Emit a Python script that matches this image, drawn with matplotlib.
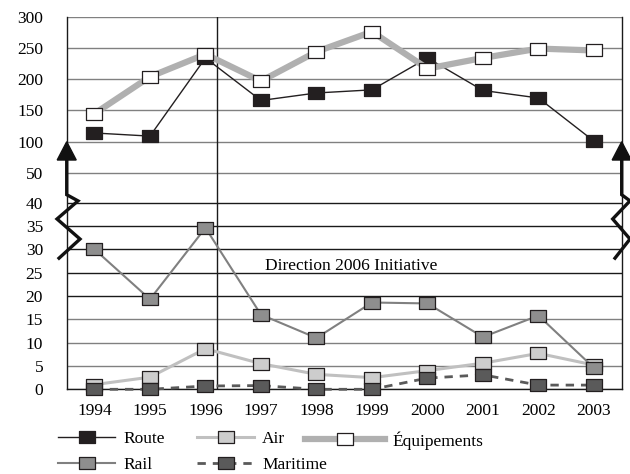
import matplotlib
matplotlib.use("Agg")
import matplotlib.pyplot as plt
import numpy as np
from matplotlib.path import Path
from matplotlib.transforms import blended_transform_factory

plt.rcParams['font.family'] = ['Liberation Serif', 'DejaVu Serif']
plt.rcParams['font.size'] = 12.5

years = ['1994', '1995', '1996', '1997', '1998', '1999', '2000', '2001', '2002', '2003']
route = [114, 109, 234, 166, 178, 183, 234, 182, 170, 101]
equipements = [145, 204, 240, 197, 244, 276, 217, 234, 249, 246]
rail = [30, 19.3, 34.6, 16, 11, 18.6, 18.4, 11.2, 15.8, 4.6]
air = [1.0, 2.6, 8.7, 5.5, 3.2, 2.5, 4.0, 5.6, 7.7, 5.2]
maritime = [0, 0, 0.7, 0.8, 0, 0, 2.4, 3.1, 0.9, 0.9]

y_ticks = [0, 5, 10, 15, 20, 25, 30, 35, 40, 50, 100, 150, 200, 250, 300]

# broken axis: 0-40 stretched, 50-300 compressed
brk_vals = [0, 40, 50, 100, 300]
brk_pos = [0, 8.0, 9.26, 10.61, 15.97]


def fwd(v):
    return np.interp(v, brk_vals, brk_pos)


def inv(p):
    return np.interp(p, brk_pos, brk_vals)


# rectangular marker, wider than tall
rect = Path([(-1, -0.7), (1, -0.7), (1, 0.7), (-1, 0.7), (-1, -0.7)],
            [Path.MOVETO, Path.LINETO, Path.LINETO, Path.LINETO, Path.CLOSEPOLY])

fig = plt.figure(figsize=(6.3, 4.74), dpi=100)
ax = fig.add_axes([0.1059, 0.1787, 0.8809, 0.7861])
ax.set_yscale('function', functions=(fwd, inv))

x = np.arange(len(years))
edge = '#231f20'
ms = 12.2

l_air, = ax.plot(x, air, color='#c0c0c0', lw=2.2, marker=rect, ms=ms, mfc='#cdcdcd',
                 mec=edge, mew=0.9, zorder=3, clip_on=False, label='Air')
l_rail, = ax.plot(x, rail, color='#808080', lw=1.5, marker=rect, ms=ms, mfc='#8e8e8e',
                  mec=edge, mew=0.9, zorder=4, clip_on=False, label='Rail')
l_mar, = ax.plot(x, maritime, color='#5a5a5a', lw=2, ls=(0, (3, 2.5)), marker=rect, ms=ms,
                 mfc='#5a5a5a', mec=edge, mew=0.9, zorder=5, clip_on=False, label='Maritime')
l_route, = ax.plot(x, route, color=edge, lw=1, marker=rect, ms=ms, mfc=edge,
                   mec=edge, mew=0.9, zorder=4, clip_on=False, label='Route')
l_eq, = ax.plot(x, equipements, color='#b0b0b0', lw=4.5, marker=rect, ms=ms, mfc='white',
                mec=edge, mew=0.9, zorder=5, clip_on=False, label='Équipements')

ax.set_xlim(-0.5, 9.5)
ax.set_ylim(0, 300)
ax.set_xticks(x)
ax.set_xticklabels(years)
ax.set_yticks(y_ticks)
ax.set_yticklabels([str(t) for t in y_ticks])
ax.yaxis.set_minor_locator(matplotlib.ticker.NullLocator())
ax.tick_params(axis='both', length=0)
ax.tick_params(axis='y', pad=17)
ax.tick_params(axis='x', pad=10)

ax.grid(axis='y', color='#808080', lw=1)
for t, gl in zip(y_ticks, ax.get_ygridlines()):
    if 20 <= t <= 40:
        gl.set_color('#1a1a1a')
ax.set_axisbelow(True)

for s in ['left', 'right', 'bottom']:
    ax.spines[s].set_color('#1a1a1a')
    ax.spines[s].set_linewidth(1)
ax.spines['top'].set_visible(False)

# vertical marker line and annotation
ax.axvline(2.2, color='#1a1a1a', lw=1, zorder=2)
ax.text(3.07, 25.6, 'Direction 2006 Initiative', ha='left', va='baseline', fontsize=12.5)

# axis break symbols on both sides
tr = blended_transform_factory(ax.transAxes, ax.transData)
w = 555.0
for x0, zz in [(0.0, [(0, 71), (0, 42.7), (11.3, 40.6), (-9.7, 36.5), (13.3, 32.2), (-7.7, 28.1)]),
               (1.0, [(0, 71), (0, 42.7), (8.3, 40.6), (-9.0, 36.5), (8.3, 32.2), (-6.7, 28.1)])]:
    xs = [x0 + p[0] / w for p in zz]
    ys = [p[1] for p in zz]
    ax.plot(xs, ys, color='#111111', lw=2.4, transform=tr, clip_on=False, zorder=6,
            solid_joinstyle='miter')
    ax.fill([x0 - 9.5 / w, x0, x0 + 9.5 / w], [71, 100, 71], color='#111111',
            transform=tr, clip_on=False, zorder=6)

leg_kw = dict(loc='upper left', frameon=False, borderpad=0, borderaxespad=0,
              handletextpad=0.45, labelspacing=0.58, fontsize=12.5)
top = 1 - 431 / 474
fig.legend([l_route, l_rail], ['Route', 'Rail'], bbox_to_anchor=(58 / 630, top),
           handlelength=3.3, **leg_kw)
fig.legend([l_air, l_mar], ['Air', 'Maritime'], bbox_to_anchor=(197 / 630, top),
           handlelength=3.3, **leg_kw)
fig.legend([l_eq], ['Équipements'], bbox_to_anchor=(305 / 630, top),
           handlelength=4.6, **leg_kw)

fig.savefig('out.png', dpi=100)
